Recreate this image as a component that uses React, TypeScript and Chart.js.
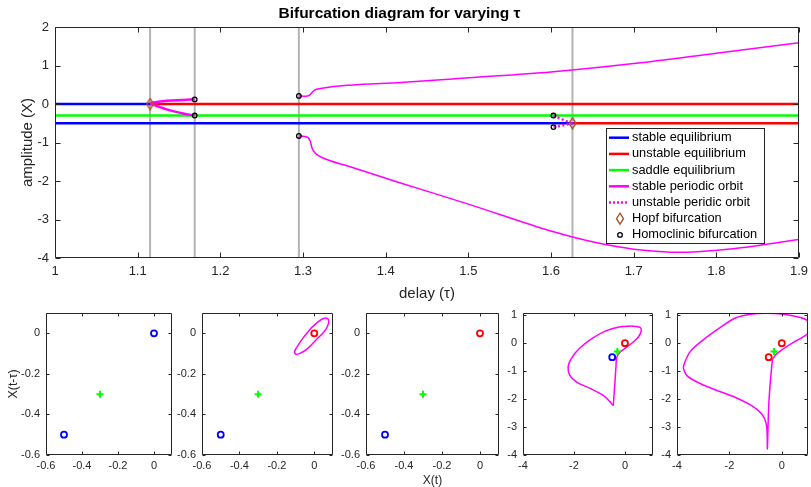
import React, { useEffect, useRef } from 'react';
import { Chart, registerables } from 'chart.js';

Chart.register(...registerables);

const FONT = "'Liberation Sans', Arial, Helvetica, sans-serif";
const INK = '#262626';
const BLUE = '#0000ff';
const RED = '#ff0000';
const GREEN = '#00ff00';
const MAGENTA = '#ff00ff';
const GREY = '#b3b3b3';
const HOPF_COLOR = '#a8562c';

// ---------------- main bifurcation diagram ----------------
const TAU_RANGE = [1, 1.9];
const AMP_RANGE = [-4, 2];
const TAU_TICKS = [1, 1.1, 1.2, 1.3, 1.4, 1.5, 1.6, 1.7, 1.8, 1.9];
const TAU_TICK_LABELS = ['1', '1.1', '1.2', '1.3', '1.4', '1.5', '1.6', '1.7', '1.8', '1.9'];
const AMP_TICKS = [-4, -3, -2, -1, 0, 1, 2];
const AMP_TICK_LABELS = ['-4', '-3', '-2', '-1', '0', '1', '2'];

const STABLE_EQ_TOP_TAU = [1, 1.115];
const STABLE_EQ_TOP_AMP = [0, 0];
const UNSTABLE_EQ_TOP_TAU = [1.115, 1.9];
const UNSTABLE_EQ_TOP_AMP = [0, 0];
const SADDLE_EQ_TAU = [1, 1.9];
const SADDLE_EQ_AMP = [-0.3, -0.3];
const STABLE_EQ_LOW_TAU = [1, 1.626];
const STABLE_EQ_LOW_AMP = [-0.5, -0.5];
const UNSTABLE_EQ_LOW_TAU = [1.626, 1.9];
const UNSTABLE_EQ_LOW_AMP = [-0.5, -0.5];

const SMALL_ORBIT_MAX_TAU = [1.115, 1.117, 1.123, 1.135, 1.155, 1.169];
const SMALL_ORBIT_MAX_AMP = [0, 0.025, 0.05, 0.085, 0.105, 0.12];
const SMALL_ORBIT_MIN_TAU = [1.115, 1.12, 1.135, 1.155, 1.169];
const SMALL_ORBIT_MIN_AMP = [0, -0.03, -0.14, -0.245, -0.3];

const UNSTABLE_ORBIT_MAX_TAU = [1.603, 1.609, 1.616, 1.621, 1.626];
const UNSTABLE_ORBIT_MAX_AMP = [-0.3, -0.357, -0.417, -0.47, -0.5];
const UNSTABLE_ORBIT_MIN_TAU = [1.603, 1.61, 1.617, 1.626];
const UNSTABLE_ORBIT_MIN_AMP = [-0.6, -0.575, -0.545, -0.5];

const LARGE_ORBIT_MAX_TAU = [1.295, 1.303, 1.308, 1.311, 1.314, 1.321, 1.357, 1.418, 1.5, 1.6, 1.7, 1.8, 1.9];
const LARGE_ORBIT_MAX_AMP = [0.21, 0.2, 0.23, 0.3, 0.36, 0.4, 0.49, 0.56, 0.68, 0.83, 1.05, 1.32, 1.59];
const LARGE_ORBIT_MIN_TAU = [1.295, 1.306, 1.309, 1.311, 1.315, 1.321, 1.357, 1.418, 1.5, 1.6, 1.65, 1.7, 1.76, 1.82, 1.9];
const LARGE_ORBIT_MIN_AMP = [-0.83, -0.87, -0.98, -1.15, -1.28, -1.37, -1.63, -2.05, -2.6, -3.3, -3.58, -3.77, -3.85, -3.76, -3.52];

const HOPF_TAU = [1.115, 1.626];
const HOPF_AMP = [0, -0.5];
const HOMOCLINIC_TAU = [1.169, 1.169, 1.295, 1.295, 1.603, 1.603];
const HOMOCLINIC_AMP = [0.12, -0.3, 0.21, -0.83, -0.3, -0.6];
const MARKER_LINE_TAU = [1.115, 1.169, 1.295, 1.626];

const LEGEND_LABELS = [
  'stable equilibrium',
  'unstable equilibrium',
  'saddle equilibrium',
  'stable periodic orbit',
  'unstable peridic orbit',
  'Hopf bifurcation',
  'Homoclinic bifurcation',
];

// ---------------- phase portraits ----------------
const SMALL_LIM = [-0.6, 0.1];
const SMALL_TICKS = [-0.6, -0.4, -0.2, 0];
const SMALL_TICK_LABELS = ['-0.6', '-0.4', '-0.2', '0'];
const BIG_X_LIM_4 = [-4, 1.1];
const BIG_X_LIM_5 = [-4, 1.0];
const BIG_Y_LIM = [-4, 1.08];
const BIG_X_TICKS = [-4, -2, 0];
const BIG_X_TICK_LABELS = ['-4', '-2', '0'];
const BIG_Y_TICKS = [-4, -3, -2, -1, 0, 1];
const BIG_Y_TICK_LABELS = ['-4', '-3', '-2', '-1', '0', '1'];

const SADDLE_POINT = [-0.3];
const P1_STABLE = [0, -0.5];
const P1_UNSTABLE: number[] = [];
const P2_STABLE = [-0.5];
const P2_UNSTABLE = [0];
const P3_STABLE = [-0.5];
const P3_UNSTABLE = [0];
const P4_STABLE = [-0.5];
const P4_UNSTABLE = [0];
const P5_STABLE: number[] = [];
const P5_UNSTABLE = [0, -0.5];

const ORBIT2_X = [-0.018, 0.027, 0.053, 0.071, 0.078, 0.068, 0.053, 0.009, -0.044, -0.08, -0.1, -0.105, -0.097, -0.062, -0.018];
const ORBIT2_Y = [0.025, 0.061, 0.074, 0.072, 0.058, 0.03, 0.008, -0.033, -0.082, -0.1, -0.103, -0.09, -0.074, -0.025, 0.025];

const ORBIT4_X = [-0.46, -0.4, -0.35, -0.32, -0.17, 0.03, 0.35, 0.54, 0.64, 0.6, 0.45, 0.15, -0.23, -0.75, -1.27, -1.78, -2.1, -2.23, -2.17, -1.91, -1.39, -0.88, -0.59, -0.46];
const ORBIT4_Y = [-2.24, -1.5, -0.8, -0.5, -0.3, -0.17, 0.06, 0.24, 0.45, 0.56, 0.6, 0.61, 0.58, 0.44, 0.18, -0.18, -0.54, -0.84, -1.14, -1.38, -1.61, -1.85, -2.09, -2.24];

const ORBIT5_X = [-0.36, -0.25, 0.0, 0.5, 0.94, 1.1, 1.16, 1.06, 0.75, 0.13, -0.62, -1.25, -1.75, -2.37, -3.0, -3.5, -3.72, -3.75, -3.62, -3.25, -2.62, -1.75, -1.12, -0.75, -0.6, -0.56, -0.55, -0.5, -0.44, -0.36];
const ORBIT5_Y = [-0.6, -0.43, -0.24, 0.06, 0.3, 0.45, 0.6, 0.76, 0.91, 1.03, 1.07, 1.03, 0.91, 0.55, 0.12, -0.31, -0.73, -0.91, -1.16, -1.38, -1.64, -1.95, -2.25, -2.55, -2.86, -3.23, -3.77, -2.25, -1.4, -0.6];

// ---------------- helpers ----------------
const pts = (xs: number[], ys: number[]) => xs.map((x, i) => ({ x, y: ys[i] }));

function diamondImage(): HTMLCanvasElement {
  const c = document.createElement('canvas');
  c.width = 9;
  c.height = 13;
  const g = c.getContext('2d')!;
  g.strokeStyle = HOPF_COLOR;
  g.lineWidth = 1.4;
  g.beginPath();
  g.moveTo(4.5, 1);
  g.lineTo(8, 6.5);
  g.lineTo(4.5, 12);
  g.lineTo(1, 6.5);
  g.closePath();
  g.stroke();
  return c;
}

const boxAxes = {
  id: 'boxAxes',
  afterDatasetsDraw(chart: any, _args: any, opts: any) {
    const { ctx, chartArea } = chart;
    const xs = chart.scales.x;
    const ys = chart.scales.y;
    const len = opts.tickLength ?? 5;
    const l = Math.round(chartArea.left) + 0.5;
    const r = Math.round(chartArea.right) - 0.5;
    const t = Math.round(chartArea.top) + 0.5;
    const b = Math.round(chartArea.bottom) - 0.5;
    ctx.save();
    ctx.strokeStyle = INK;
    ctx.lineWidth = 1;
    ctx.beginPath();
    xs.ticks.forEach((tk: any) => {
      const px = Math.round(xs.getPixelForValue(tk.value)) + 0.5;
      ctx.moveTo(px, b);
      ctx.lineTo(px, b - len);
      ctx.moveTo(px, t);
      ctx.lineTo(px, t + len);
    });
    ys.ticks.forEach((tk: any) => {
      const py = Math.round(ys.getPixelForValue(tk.value)) + 0.5;
      ctx.moveTo(l, py);
      ctx.lineTo(l + len, py);
      ctx.moveTo(r, py);
      ctx.lineTo(r - len, py);
    });
    ctx.rect(l, t, r - l, b - t);
    ctx.stroke();
    ctx.restore();
  },
};

const LEGEND_STYLES = [
  { kind: 'line', color: BLUE, dash: [] as number[] },
  { kind: 'line', color: RED, dash: [] as number[] },
  { kind: 'line', color: GREEN, dash: [] as number[] },
  { kind: 'line', color: MAGENTA, dash: [] as number[] },
  { kind: 'line', color: MAGENTA, dash: [2, 2] },
  { kind: 'diamond', color: HOPF_COLOR, dash: [] as number[] },
  { kind: 'circle', color: '#000', dash: [] as number[] },
];

const bifLegend = {
  id: 'bifLegend',
  afterDraw(chart: any) {
    const { ctx, chartArea } = chart;
    const w = 158;
    const h = 115;
    const left = Math.round(chartArea.right - 35 - w);
    const top = Math.round(chartArea.bottom - 15 - h);
    ctx.save();
    ctx.fillStyle = '#ffffff';
    ctx.fillRect(left, top, w, h);
    ctx.strokeStyle = INK;
    ctx.lineWidth = 1;
    ctx.strokeRect(left + 0.5, top + 0.5, w, h);
    ctx.font = `12.8px ${FONT}`;
    ctx.textBaseline = 'middle';
    ctx.textAlign = 'left';
    LEGEND_LABELS.forEach((label, i) => {
      const yy = top + 9.7 + i * 16.2;
      const st = LEGEND_STYLES[i];
      if (st.kind === 'line') {
        ctx.strokeStyle = st.color;
        ctx.lineWidth = 2.5;
        ctx.setLineDash(st.dash);
        ctx.beginPath();
        ctx.moveTo(left + 3, yy);
        ctx.lineTo(left + 23, yy);
        ctx.stroke();
        ctx.setLineDash([]);
      } else if (st.kind === 'diamond') {
        ctx.strokeStyle = st.color;
        ctx.lineWidth = 1.4;
        ctx.beginPath();
        ctx.moveTo(left + 14, yy - 5.5);
        ctx.lineTo(left + 17.5, yy);
        ctx.lineTo(left + 14, yy + 5.5);
        ctx.lineTo(left + 10.5, yy);
        ctx.closePath();
        ctx.stroke();
      } else {
        ctx.strokeStyle = st.color;
        ctx.lineWidth = 1.3;
        ctx.beginPath();
        ctx.arc(left + 14, yy, 2.3, 0, Math.PI * 2);
        ctx.stroke();
      }
      ctx.fillStyle = '#000';
      ctx.fillText(label, left + 26, yy);
    });
    ctx.restore();
  },
};

function axisTicks(values: number[], labels: string[], size: number, tickLen: number) {
  return {
    afterBuildTicks: (s: any) => {
      s.ticks = values.map((v) => ({ value: v }));
    },
    grid: { display: false, drawTicks: true, tickLength: tickLen },
    border: { display: false },
    ticks: {
      padding: 0,
      color: INK,
      font: { family: FONT, size },
      maxRotation: 0,
      autoSkip: false,
      callback: (_v: any, i: number) => labels[i],
    },
  };
}

function lineDs(xs: number[], ys: number[], color: string, width: number, order: number, extra: any = {}) {
  return {
    data: pts(xs, ys),
    showLine: true,
    borderColor: color,
    borderWidth: width,
    pointRadius: 0,
    order,
    ...extra,
  };
}

function mainConfig(): any {
  const diamond = diamondImage();
  const datasets: any[] = [];
  MARKER_LINE_TAU.forEach((t) => {
    datasets.push(lineDs([t, t], AMP_RANGE, GREY, 2, 20));
  });
  datasets.push(lineDs(STABLE_EQ_TOP_TAU, STABLE_EQ_TOP_AMP, BLUE, 2.5, 10));
  datasets.push(lineDs(UNSTABLE_EQ_TOP_TAU, UNSTABLE_EQ_TOP_AMP, RED, 2.5, 10));
  datasets.push(lineDs(SADDLE_EQ_TAU, SADDLE_EQ_AMP, GREEN, 2.5, 10));
  datasets.push(lineDs(STABLE_EQ_LOW_TAU, STABLE_EQ_LOW_AMP, BLUE, 2.5, 10));
  datasets.push(lineDs(UNSTABLE_EQ_LOW_TAU, UNSTABLE_EQ_LOW_AMP, RED, 2.5, 10));
  datasets.push(lineDs(SMALL_ORBIT_MAX_TAU, SMALL_ORBIT_MAX_AMP, MAGENTA, 2.5, 5, { cubicInterpolationMode: 'monotone' }));
  datasets.push(lineDs(SMALL_ORBIT_MIN_TAU, SMALL_ORBIT_MIN_AMP, MAGENTA, 2.5, 5, { cubicInterpolationMode: 'monotone' }));
  datasets.push(lineDs(UNSTABLE_ORBIT_MAX_TAU, UNSTABLE_ORBIT_MAX_AMP, MAGENTA, 2.5, 5, { borderDash: [2, 2.5], cubicInterpolationMode: 'monotone' }));
  datasets.push(lineDs(UNSTABLE_ORBIT_MIN_TAU, UNSTABLE_ORBIT_MIN_AMP, MAGENTA, 2.5, 5, { borderDash: [2, 2.5], cubicInterpolationMode: 'monotone' }));
  datasets.push(lineDs(LARGE_ORBIT_MAX_TAU, LARGE_ORBIT_MAX_AMP, MAGENTA, 1.5, 5, { cubicInterpolationMode: 'monotone' }));
  datasets.push(lineDs(LARGE_ORBIT_MIN_TAU, LARGE_ORBIT_MIN_AMP, MAGENTA, 1.5, 5, { cubicInterpolationMode: 'monotone' }));
  datasets.push({
    data: pts(HOMOCLINIC_TAU, HOMOCLINIC_AMP),
    showLine: false,
    pointStyle: 'circle',
    pointRadius: 2.3,
    pointBorderWidth: 1.3,
    pointBorderColor: '#000',
    pointBackgroundColor: 'rgba(0,0,0,0)',
    order: 1,
  });
  datasets.push({
    data: pts(HOPF_TAU, HOPF_AMP),
    showLine: false,
    pointStyle: diamond,
    pointRadius: 4,
    order: 0,
  });

  const xAxis: any = axisTicks(TAU_TICKS, TAU_TICK_LABELS, 13, 6);
  const yAxis: any = axisTicks(AMP_TICKS, AMP_TICK_LABELS, 13, 6);
  return {
    type: 'scatter',
    data: { datasets },
    plugins: [boxAxes, bifLegend],
    options: {
      animation: false,
      responsive: false,
      devicePixelRatio: 1,
      events: [],
      layout: { padding: { left: 0, right: 12, top: 0, bottom: 0 } },
      plugins: {
        legend: { display: false },
        tooltip: { enabled: false },
        title: {
          display: true,
          text: 'Bifurcation diagram for varying τ',
          color: '#000',
          font: { family: FONT, size: 15.5, weight: 'bold' },
          padding: { top: 4.2, bottom: 4.2 },
        },
        boxAxes: { tickLength: 5 },
      },
      scales: {
        x: {
          type: 'linear',
          position: 'bottom',
          min: TAU_RANGE[0],
          max: TAU_RANGE[1],
          ...xAxis,
          afterFit: (s: any) => {
            s.height = 47;
          },
          title: {
            display: true,
            text: 'delay (τ)',
            color: INK,
            font: { family: FONT, size: 15 },
            padding: { top: 0, bottom: 2 },
          },
        },
        y: {
          type: 'linear',
          position: 'left',
          min: AMP_RANGE[0],
          max: AMP_RANGE[1],
          ...yAxis,
          afterFit: (s: any) => {
            s.width = 55;
          },
          title: {
            display: true,
            text: 'amplitude (X)',
            color: INK,
            font: { family: FONT, size: 15 },
            padding: { top: 18.5, bottom: 0 },
          },
        },
      },
    },
  };
}

type Panel = {
  left: number;
  right: number;
  yAxisW: number;
  xAxisH: number;
  xLim: number[];
  yLim: number[];
  xTicks: number[];
  xTickLabels: string[];
  yTicks: number[];
  yTickLabels: string[];
  stable: number[];
  unstable: number[];
  orbitX?: number[];
  orbitY?: number[];
  xTitle?: string;
  yTitle?: string;
};

const PANEL_TOP = 313;
const PANEL_BOTTOM = 455;
const PANEL_PAD_TOP = 8;
const PANEL_PAD_RIGHT = 4;

const PANELS: Panel[] = [
  { left: 46, right: 174, yAxisW: 46, xAxisH: 20, xLim: SMALL_LIM, yLim: SMALL_LIM, xTicks: SMALL_TICKS, xTickLabels: SMALL_TICK_LABELS, yTicks: SMALL_TICKS, yTickLabels: SMALL_TICK_LABELS, stable: P1_STABLE, unstable: P1_UNSTABLE, yTitle: 'X(t-τ)' },
  { left: 202, right: 335, yAxisW: 40, xAxisH: 20, xLim: SMALL_LIM, yLim: SMALL_LIM, xTicks: SMALL_TICKS, xTickLabels: SMALL_TICK_LABELS, yTicks: SMALL_TICKS, yTickLabels: SMALL_TICK_LABELS, stable: P2_STABLE, unstable: P2_UNSTABLE, orbitX: ORBIT2_X, orbitY: ORBIT2_Y },
  { left: 366, right: 501, yAxisW: 40, xAxisH: 33, xLim: SMALL_LIM, yLim: SMALL_LIM, xTicks: SMALL_TICKS, xTickLabels: SMALL_TICK_LABELS, yTicks: SMALL_TICKS, yTickLabels: SMALL_TICK_LABELS, stable: P3_STABLE, unstable: P3_UNSTABLE, xTitle: 'X(t)' },
  { left: 523, right: 655, yAxisW: 40, xAxisH: 20, xLim: BIG_X_LIM_4, yLim: BIG_Y_LIM, xTicks: BIG_X_TICKS, xTickLabels: BIG_X_TICK_LABELS, yTicks: BIG_Y_TICKS, yTickLabels: BIG_Y_TICK_LABELS, stable: P4_STABLE, unstable: P4_UNSTABLE, orbitX: ORBIT4_X, orbitY: ORBIT4_Y },
  { left: 677, right: 810, yAxisW: 40, xAxisH: 20, xLim: BIG_X_LIM_5, yLim: BIG_Y_LIM, xTicks: BIG_X_TICKS, xTickLabels: BIG_X_TICK_LABELS, yTicks: BIG_Y_TICKS, yTickLabels: BIG_Y_TICK_LABELS, stable: P5_STABLE, unstable: P5_UNSTABLE, orbitX: ORBIT5_X, orbitY: ORBIT5_Y },
];

const panelCanvas = (p: Panel) => ({
  left: p.left - p.yAxisW,
  top: PANEL_TOP - PANEL_PAD_TOP,
  width: p.yAxisW + (p.right - p.left) + PANEL_PAD_RIGHT,
  height: PANEL_PAD_TOP + (PANEL_BOTTOM - PANEL_TOP) + p.xAxisH,
});

function phaseConfig(p: Panel): any {
  const datasets: any[] = [];
  if (p.orbitX && p.orbitY) {
    datasets.push(lineDs(p.orbitX, p.orbitY, MAGENTA, 1.5, 5, { tension: 0.35 }));
  }
  const marker = (vals: number[], color: string) => ({
    data: pts(vals, vals),
    showLine: false,
    pointStyle: 'circle',
    pointRadius: 3,
    pointBorderWidth: 1.8,
    pointBorderColor: color,
    pointBackgroundColor: 'rgba(0,0,0,0)',
    order: 1,
  });
  if (p.stable.length) datasets.push(marker(p.stable, BLUE));
  if (p.unstable.length) datasets.push(marker(p.unstable, RED));
  datasets.push({
    data: pts(SADDLE_POINT, SADDLE_POINT),
    showLine: false,
    pointStyle: 'cross',
    pointRadius: 3.5,
    pointBorderWidth: 2,
    pointBorderColor: GREEN,
    order: 0,
  });
  const xAxis: any = axisTicks(p.xTicks, p.xTickLabels, 11, 4);
  const yAxis: any = axisTicks(p.yTicks, p.yTickLabels, 11, 6);
  return {
    type: 'scatter',
    data: { datasets },
    plugins: [boxAxes],
    options: {
      animation: false,
      responsive: false,
      devicePixelRatio: 1,
      events: [],
      layout: { padding: { left: 0, right: PANEL_PAD_RIGHT, top: PANEL_PAD_TOP, bottom: 0 } },
      plugins: {
        legend: { display: false },
        tooltip: { enabled: false },
        title: { display: false },
        boxAxes: { tickLength: 3 },
      },
      scales: {
        x: {
          type: 'linear',
          position: 'bottom',
          min: p.xLim[0],
          max: p.xLim[1],
          ...xAxis,
          afterFit: (s: any) => {
            s.height = p.xAxisH;
          },
          title: {
            display: !!p.xTitle,
            text: p.xTitle || '',
            color: INK,
            font: { family: FONT, size: 12 },
            padding: { top: 0, bottom: 0 },
          },
        },
        y: {
          type: 'linear',
          position: 'left',
          min: p.yLim[0],
          max: p.yLim[1],
          ...yAxis,
          afterFit: (s: any) => {
            s.width = p.yAxisW;
          },
          title: {
            display: !!p.yTitle,
            text: p.yTitle || '',
            color: INK,
            font: { family: FONT, size: 12.5 },
            padding: { top: 6.5, bottom: 0 },
          },
        },
      },
    },
  };
}

export default function App() {
  const mainRef = useRef<HTMLCanvasElement | null>(null);
  const panelRefs = useRef<(HTMLCanvasElement | null)[]>([]);

  useEffect(() => {
    const charts: Chart[] = [];
    if (mainRef.current) charts.push(new Chart(mainRef.current, mainConfig()));
    PANELS.forEach((p, i) => {
      const el = panelRefs.current[i];
      if (el) charts.push(new Chart(el, phaseConfig(p)));
    });
    return () => charts.forEach((c) => c.destroy());
  }, []);

  return (
    <div
      style={{
        position: 'absolute',
        left: 0,
        top: 0,
        width: 811,
        height: 487,
        overflow: 'hidden',
        background: '#ffffff',
      }}
    >
      <canvas
        ref={mainRef}
        width={811}
        height={305}
        style={{ position: 'absolute', left: 0, top: 0, width: 811, height: 305 }}
      />
      {PANELS.map((p, i) => {
        const c = panelCanvas(p);
        return (
          <canvas
            key={i}
            ref={(el) => {
              panelRefs.current[i] = el;
            }}
            width={c.width}
            height={c.height}
            style={{ position: 'absolute', left: c.left, top: c.top, width: c.width, height: c.height }}
          />
        );
      })}
    </div>
  );
}
